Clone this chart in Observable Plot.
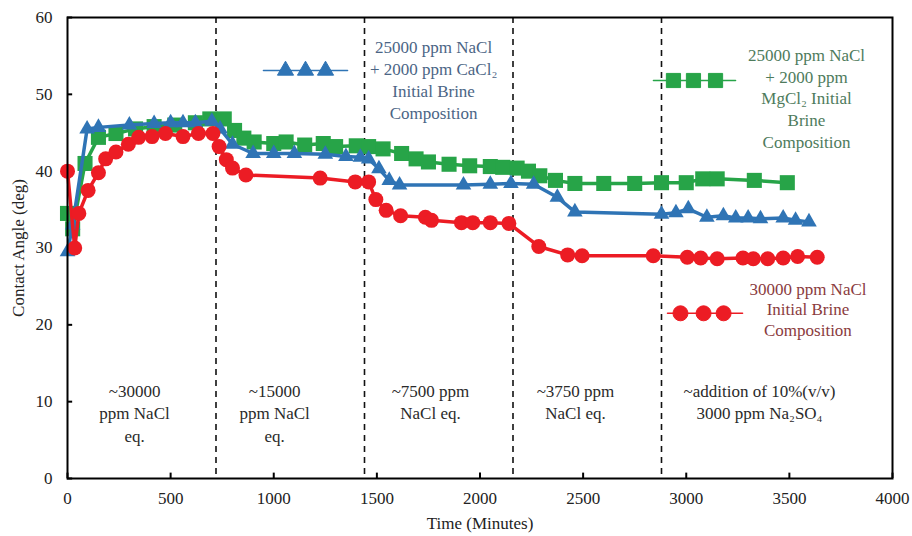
<!DOCTYPE html>
<html>
<head>
<meta charset="utf-8">
<script src="https://cdn.jsdelivr.net/npm/d3@7"></script>
<script src="https://cdn.jsdelivr.net/npm/@observablehq/plot@0.6"></script>
<style>
  html, body { margin: 0; padding: 0; background: #fff; }
  #chart { width: 912px; height: 536px; }
</style>
</head>
<body>
<div id="chart"></div>
<script>
// ---- data ----
const xTicks = [0, 500, 1000, 1500, 2000, 2500, 3000, 3500, 4000];
const yTicks = [0, 10, 20, 30, 40, 50, 60];
const stageBoundaries = [720, 1440, 2160, 2880];

const naclTime = [0, 35, 55, 100, 150, 185, 235, 295, 345, 410, 475, 560, 635, 705, 735, 770, 800, 865, 1225, 1395, 1460, 1495, 1545, 1615, 1735, 1765, 1910, 1965, 2050, 2140, 2285, 2425, 2495, 2840, 3005, 3070, 3150, 3275, 3325, 3395, 3470, 3540, 3635];
const naclAngle = [40, 30, 34.5, 37.5, 39.8, 41.6, 42.5, 43.5, 44.4, 44.5, 44.9, 44.5, 44.9, 44.9, 43.2, 41.5, 40.4, 39.5, 39.1, 38.6, 38.6, 36.3, 34.9, 34.2, 34.0, 33.6, 33.3, 33.3, 33.3, 33.2, 30.2, 29.1, 29.0, 29.0, 28.8, 28.7, 28.6, 28.7, 28.6, 28.6, 28.7, 28.9, 28.8];

const caclTime = [0, 25, 95, 150, 300, 420, 500, 560, 620, 700, 740, 800, 900, 1000, 1100, 1250, 1350, 1420, 1460, 1510, 1560, 1610, 1920, 2050, 2150, 2260, 2375, 2460, 2880, 2950, 3010, 3100, 3180, 3240, 3300, 3360, 3470, 3530, 3595];
const caclAngle = [29.5, 33, 45.5, 45.7, 46.0, 46.2, 46.3, 46.3, 46.3, 46.5, 45.5, 43.5, 42.3, 42.3, 42.3, 42.2, 41.9, 41.8, 41.6, 40.3, 38.8, 38.2, 38.2, 38.3, 38.4, 38.3, 36.6, 34.7, 34.4, 34.6, 35.1, 34.0, 34.2, 33.9, 33.9, 33.8, 33.9, 33.6, 33.4];

const mgclTime = [0, 25, 85, 150, 235, 330, 420, 520, 620, 690, 760, 810, 855, 905, 1000, 1060, 1150, 1240, 1300, 1400, 1460, 1530, 1620, 1690, 1750, 1850, 1950, 2050, 2110, 2180, 2235, 2290, 2366, 2460, 2600, 2750, 2880, 3000, 3080, 3150, 3330, 3490];
const mgclAngle = [34.5, 32.5, 41, 44.4, 44.9, 45.5, 45.8, 46.0, 46.3, 46.8, 46.8, 45.3, 44.3, 43.8, 43.6, 43.8, 43.4, 43.6, 43.2, 43.3, 43.2, 42.9, 42.3, 41.6, 41.2, 40.9, 40.7, 40.6, 40.5, 40.4, 40.0, 39.4, 38.8, 38.4, 38.4, 38.4, 38.5, 38.5, 39.0, 39.0, 38.8, 38.5];

const stageLabels = ["~30000\nppm NaCl\neq.", "~15000\nppm NaCl\neq.", "~7500 ppm\nNaCl eq.", "~3750 ppm\nNaCl eq.", "~addition of 10%(v/v)\n3000 ppm Na\u2082SO\u2084"];
const seriesLabels = {
  cacl: "25000 ppm NaCl\n+ 2000 ppm CaCl\u2082\nInitial Brine\nComposition",
  mgcl: "25000 ppm NaCl\n+ 2000 ppm\nMgCl\u2082 Initial\nBrine\nComposition",
  nacl: "30000 ppm NaCl\nInitial Brine\nComposition"
};

// ---- layout (annotation anchors in data units) ----
const stageLabelX = [325, 1004, 1760, 2463, 3355];
const stageLabelTop = 12.6;

const legend = {
  cacl: {lineX: [950, 1358], markX: [1057, 1154, 1251], y: 53.1, textX: 1775, textY: 57.4, lh: 1.3},
  mgcl: {lineX: [2841, 3239], markX: [2938, 3035, 3142], y: 51.8, textX: 3583, textY: 56.3, lh: 1.27},
  nacl: {lineX: [2909, 3273], markX: [2972, 3084, 3181], y: 21.5, textX: 3590, textY: 25.8, lh: 1.2}
};

const colors = {nacl: "#ec1c24", cacl: "#2f74b5", mgcl: "#27a448"};
const textColors = {nacl: "#8a3b3e", cacl: "#4b6585", mgcl: "#4e7b5c", stage: "#2a2a2a"};

const nacl = naclTime.map((t, i) => ({t, a: naclAngle[i]}));
const cacl = caclTime.map((t, i) => ({t, a: caclAngle[i]}));
const mgcl = mgclTime.map((t, i) => ({t, a: mgclAngle[i]}));
const stages = stageLabels.map((s, i) => ({s, x: stageLabelX[i]}));

function legendMarks(key, symbol, r) {
  const L = legend[key];
  return [
    Plot.lineX(L.lineX, {x: d => d, y: () => L.y, stroke: colors[key], strokeWidth: 1.5}),
    Plot.dot(L.markX, {x: d => d, y: () => L.y, symbol, r, fill: colors[key], stroke: colors[key], strokeWidth: 1}),
    Plot.text([seriesLabels[key]], {x: () => L.textX, y: () => L.textY, text: d => d, lineAnchor: "top", textAnchor: "middle", lineHeight: L.lh, fill: textColors[key], fontSize: 17})
  ];
}

const chart = Plot.plot({
  width: 912,
  height: 536,
  marginLeft: 67,
  marginRight: 20,
  marginTop: 17,
  marginBottom: 58,
  style: {fontFamily: "'Liberation Serif', 'Times New Roman', serif", fontSize: "17px", color: "#222", background: "#fff"},
  x: {domain: [0, 4000]},
  y: {domain: [0, 60]},
  marks: [
    Plot.axisX({ticks: xTicks, tickFormat: d => String(d), tickSize: 0, tickPadding: 13, label: "Time (Minutes)", labelAnchor: "center", labelOffset: 50, labelArrow: "none", fontSize: 17}),
    Plot.axisY({ticks: yTicks, tickFormat: d => String(d), tickSize: 0, tickPadding: 15, label: "Contact Angle (deg)", labelAnchor: "center", labelOffset: 56, labelArrow: "none", fontSize: 17}),
    Plot.ruleX(xTicks, {y1: 0, y2: 0.7, stroke: "#000", strokeWidth: 2}),
    Plot.ruleY(yTicks, {x1: 0, x2: 25, stroke: "#000", strokeWidth: 2}),
    Plot.ruleX(stageBoundaries, {stroke: "#111", strokeWidth: 1.6, strokeDasharray: "6,5"}),
    Plot.text(stages, {x: "x", y: () => stageLabelTop, text: "s", lineAnchor: "top", textAnchor: "middle", lineHeight: 1.3, fill: textColors.stage, fontSize: 17}),
    // series: green, blue, red
    Plot.line(mgcl, {x: "t", y: "a", stroke: colors.mgcl, strokeWidth: 3.5}),
    Plot.dot(mgcl, {x: "t", y: "a", symbol: "square", r: 8.5, fill: colors.mgcl}),
    Plot.line(cacl, {x: "t", y: "a", stroke: colors.cacl, strokeWidth: 3.5}),
    Plot.dot(cacl, {x: "t", y: "a", symbol: "triangle", r: 5.8, fill: colors.cacl}),
    Plot.line(nacl, {x: "t", y: "a", stroke: colors.nacl, strokeWidth: 3.5}),
    Plot.dot(nacl, {x: "t", y: "a", symbol: "circle", r: 7.5, fill: colors.nacl}),
    ...legendMarks("cacl", "triangle", 6),
    ...legendMarks("mgcl", "square", 8),
    ...legendMarks("nacl", "circle", 7.5),
    Plot.frame({stroke: "#000", strokeWidth: 2})
  ]
});
document.getElementById("chart").appendChild(chart);
</script>
</body>
</html>
